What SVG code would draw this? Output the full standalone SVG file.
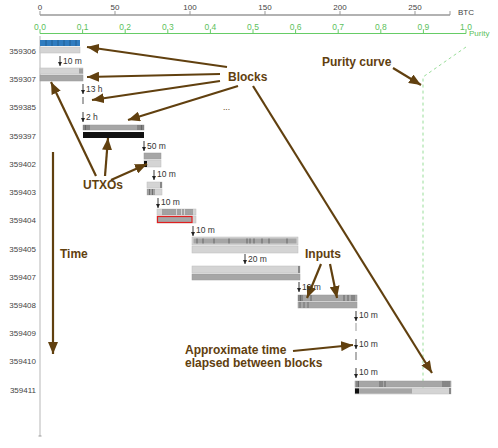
<svg xmlns="http://www.w3.org/2000/svg" width="498" height="448" viewBox="0 0 498 448">
<style>
.lbl{font-family:"Liberation Sans",Arial,sans-serif;font-size:8px;fill:#444}
.btc{font-family:"Liberation Sans",Arial,sans-serif;font-size:8px;fill:#444;text-anchor:middle}
.pur{font-family:"Liberation Sans",Arial,sans-serif;font-size:8.5px;fill:#5cbf5c;text-anchor:middle}
.row{font-family:"Liberation Sans",Arial,sans-serif;font-size:8px;fill:#444;text-anchor:end}
.dt{font-family:"Liberation Sans",Arial,sans-serif;font-size:8.5px;fill:#333}
.ann{font-family:"Liberation Sans",Arial,sans-serif;font-size:12px;font-weight:bold;fill:#61400f}
.brown{stroke:#61400f;stroke-width:2.2;fill:none;marker-end:url(#bh)}
.tarr{stroke:#222;stroke-width:0.9;fill:none;marker-end:url(#sh)}
.lg{fill:#d4d4d4;stroke:#bdbdbd;stroke-width:0.5}
.md{fill:#a6a6a6;stroke:#999;stroke-width:0.5}
</style>
<defs>
<marker id="bh" markerUnits="userSpaceOnUse" markerWidth="12" markerHeight="10" refX="12" refY="5" orient="auto"><path d="M0,0 L12,5 L0,10 z" fill="#61400f"/></marker>
<marker id="sh" markerUnits="userSpaceOnUse" markerWidth="5" markerHeight="5" refX="4" refY="2.5" orient="auto"><path d="M0,0.5 L4,2.5 L0,4.5 z" fill="#222"/></marker>
</defs>

<g id="axis-btc">
<line x1="40" y1="15" x2="450" y2="15" stroke="#999" stroke-width="1.5"/>
<path d="M40,15V11M115,15V11M190,15V11M265,15V11M340,15V11M415,15V11M450,15V11" stroke="#999" stroke-width="1"/>
<text class="btc" x="40" y="10">0</text>
<text class="btc" x="115" y="10">50</text>
<text class="btc" x="190" y="10">100</text>
<text class="btc" x="265" y="10">150</text>
<text class="btc" x="340" y="10">200</text>
<text class="btc" x="415" y="10">250</text>
<text class="lbl" x="458" y="15">BTC</text>
</g>

<g id="axis-purity">
<line x1="40" y1="33.5" x2="466" y2="33.5" stroke="#66cc66" stroke-width="1"/>
<path d="M40,33.5V30M82.6,33.5V30M125.2,33.5V30M167.8,33.5V30M210.4,33.5V30M253,33.5V30M295.6,33.5V30M338.2,33.5V30M380.8,33.5V30M423.4,33.5V30M466,33.5V30" stroke="#66cc66" stroke-width="1"/>
<text class="pur" x="40" y="30">0.0</text>
<text class="pur" x="82.6" y="30">0.1</text>
<text class="pur" x="125.2" y="30">0.2</text>
<text class="pur" x="167.8" y="30">0.3</text>
<text class="pur" x="210.4" y="30">0.4</text>
<text class="pur" x="253" y="30">0.5</text>
<text class="pur" x="295.6" y="30">0.6</text>
<text class="pur" x="338.2" y="30">0.7</text>
<text class="pur" x="380.8" y="30">0.8</text>
<text class="pur" x="423.4" y="30">0.9</text>
<text class="pur" x="466" y="30">1.0</text>
<text class="pur" x="469" y="36" style="text-anchor:start;font-size:8px">Purity</text>
</g>

<g id="axis-left">
<line x1="40" y1="36" x2="40" y2="436" stroke="#cfcfcf" stroke-width="1.5"/>
<line x1="38.5" y1="436" x2="41.5" y2="436" stroke="#999" stroke-width="1"/>
</g>

<g id="row-labels">
<text class="row" x="36" y="54">359306</text>
<text class="row" x="36" y="82">359307</text>
<text class="row" x="36" y="110">359385</text>
<text class="row" x="36" y="139">359397</text>
<text class="row" x="36" y="167">359402</text>
<text class="row" x="36" y="195">359403</text>
<text class="row" x="36" y="223">359404</text>
<text class="row" x="36" y="252">359405</text>
<text class="row" x="36" y="280">359407</text>
<text class="row" x="36" y="308">359408</text>
<text class="row" x="36" y="336">359409</text>
<text class="row" x="36" y="364">359410</text>
<text class="row" x="36" y="393">359411</text>
</g>

<g id="purity-curve">
<polyline points="466,47 423,77 423,395" fill="none" stroke="#99dd99" stroke-width="1" stroke-dasharray="3,3"/>
</g>

<g id="block-359306">
<rect x="40" y="40" width="40" height="6" fill="#2f7cc0"/>
<path d="M46,40v6M52,40v6M58,40v6M64,40v6M70,40v6M76,40v6" stroke="#1d5685" stroke-width="0.8"/>
<rect class="lg" x="40" y="47" width="40" height="6"/>
</g>
<g id="block-359307">
<rect class="lg" x="40" y="68" width="43" height="6"/>
<rect x="79" y="68.5" width="4" height="5" fill="#a0a0a0"/>
<rect class="md" x="40" y="75" width="43" height="6"/>
</g>
<g id="block-359385">
<line x1="83" y1="97" x2="83" y2="104" stroke="#555" stroke-width="1"/>
</g>
<g id="block-359397">
<rect class="md" x="83" y="125" width="61" height="5"/>
<path d="M84,125v5M85.5,125v5M87,125v5M89,125v5M138,125v5M140,125v5M141.5,125v5M143,125v5" stroke="#555" stroke-width="0.8"/>
<rect x="83" y="132" width="61" height="6" fill="#111"/>
</g>
<g id="block-359402">
<rect class="md" x="144" y="153" width="17" height="6" fill="#999"/>
<rect class="lg" x="144" y="160" width="17" height="7"/>
<rect x="144" y="161" width="3" height="6" fill="#111"/>
</g>
<g id="block-359403">
<rect class="lg" x="147" y="182" width="15" height="6"/>
<rect x="160" y="182" width="2" height="6" fill="#888"/>
<rect class="lg" x="147" y="189" width="15" height="6"/>
<path d="M148,189v6M149.5,189v6M151,189v6M152.5,189v6M154,189v6" stroke="#555" stroke-width="0.8"/>
</g>
<g id="block-359404">
<rect class="lg" x="157" y="209" width="39" height="6"/>
<path d="M163,209v6M165,209v6M167,209v6M169,209v6M171,209v6M173,209v6M175,209v6M178,209v6M180,209v6M183,209v6M186,209v6M188,209v6M190,209v6M192,209v6" stroke="#555" stroke-width="0.8"/>
<rect class="lg" x="157" y="216" width="39" height="7"/>
<rect x="157.5" y="216.5" width="34.5" height="6" fill="#a6a6a6" stroke="#e02020" stroke-width="1.2"/>
</g>
<g id="block-359405">
<rect class="lg" x="192" y="237" width="106" height="8"/>
<rect x="193.5" y="238.5" width="103" height="5" fill="#a6a6a6"/>
<path d="M197,238.5v5M203,238.5v5M214,238.5v5M229,238.5v5M247,238.5v5M250,238.5v5M254,238.5v5M262,238.5v5M269,238.5v5M287,238.5v5" stroke="#666" stroke-width="1"/>
<rect class="lg" x="192" y="246" width="106" height="7"/>
</g>
<g id="block-359407">
<rect class="lg" x="192" y="266" width="108" height="7"/>
<rect x="298" y="266" width="2" height="7" fill="#888"/>
<rect class="md" x="192" y="274" width="108" height="6"/>
</g>
<g id="block-359408">
<rect class="md" x="298" y="295" width="59" height="6"/>
<path d="M299,295v6M300.5,295v6M302,295v6M311,295v6M344,295v6M348,295v6M352,295v6M354,295v6" stroke="#555" stroke-width="0.8"/>
<rect class="md" x="298" y="302" width="59" height="6"/>
<path d="M300,302v6M304,302v6M308,302v6" stroke="#666" stroke-width="0.8"/>
</g>
<g id="block-359409">
<line x1="356" y1="323" x2="356" y2="331" stroke="#bbb" stroke-width="1.5"/>
</g>
<g id="block-359410">
<line x1="356" y1="352" x2="356" y2="360" stroke="#999" stroke-width="1.5"/>
</g>
<g id="block-359411">
<rect class="md" x="355" y="381" width="96" height="6"/>
<path d="M357,381v6M358.5,381v6M380,381v6M382,381v6M385,381v6M443,381v6M445,381v6M447,381v6M449,381v6" stroke="#555" stroke-width="0.8"/>
<rect class="lg" x="355" y="388" width="96" height="6"/>
<rect x="355" y="388.5" width="57" height="5" fill="#a6a6a6"/>
<rect x="355" y="388.5" width="4" height="5" fill="#111"/>
<rect x="449" y="388" width="2" height="6" fill="#888"/>
</g>

<g id="connectors">
<line class="tarr" x1="60" y1="56" x2="60" y2="66"/>
<line class="tarr" x1="83" y1="84" x2="83" y2="94"/>
<line class="tarr" x1="83" y1="112" x2="83" y2="122"/>
<line class="tarr" x1="144" y1="141" x2="144" y2="151"/>
<line class="tarr" x1="154" y1="170" x2="154" y2="180"/>
<line class="tarr" x1="158" y1="198" x2="158" y2="208"/>
<line class="tarr" x1="193" y1="226" x2="193" y2="236"/>
<line class="tarr" x1="245" y1="254" x2="245" y2="264"/>
<line class="tarr" x1="299" y1="282" x2="299" y2="292"/>
<line class="tarr" x1="356" y1="311" x2="356" y2="321"/>
<line class="tarr" x1="356" y1="339" x2="356" y2="349"/>
<line class="tarr" x1="356" y1="368" x2="356" y2="378"/>

<line class="brown" x1="227" y1="67" x2="87" y2="47"/>
<line class="brown" x1="220" y1="74" x2="87" y2="77"/>
<line class="brown" x1="220" y1="81" x2="92" y2="100"/>
<line class="brown" x1="238" y1="86" x2="128" y2="120"/>
<line class="brown" x1="253" y1="86" x2="432" y2="373"/>
<line class="brown" x1="393" y1="68" x2="421" y2="85"/>
<line class="brown" x1="96" y1="176" x2="51" y2="82"/>
<line class="brown" x1="105" y1="176" x2="108" y2="138"/>
<line class="brown" x1="111" y1="180" x2="147" y2="164"/>
<line class="brown" x1="321" y1="264" x2="307" y2="298"/>
<line class="brown" x1="330" y1="264" x2="337" y2="298"/>
<line class="brown" x1="293" y1="351" x2="353" y2="345"/>
<line class="brown" x1="53" y1="152" x2="53" y2="354"/>
</g>

<g id="time-labels">
<text class="dt" x="63" y="64">10 m</text>
<text class="dt" x="86" y="92">13 h</text>
<text class="dt" x="86" y="120">2 h</text>
<text class="dt" x="147" y="149">50 m</text>
<text class="dt" x="157" y="177">10 m</text>
<text class="dt" x="161" y="205">10 m</text>
<text class="dt" x="196" y="233">10 m</text>
<text class="dt" x="248" y="262">20 m</text>
<text class="dt" x="302" y="290">10 m</text>
<text class="dt" x="359" y="318">10 m</text>
<text class="dt" x="359" y="347">10 m</text>
<text class="dt" x="359" y="375">10 m</text>
</g>

<g id="annotations">
<text class="ann" x="228" y="81">Blocks</text>
<text class="ann" x="322" y="66">Purity curve</text>
<text class="ann" x="83" y="189">UTXOs</text>
<text class="ann" x="60" y="258">Time</text>
<text class="ann" x="305" y="258">Inputs</text>
<text class="ann" x="185" y="354">Approximate time</text>
<text class="ann" x="185" y="367">elapsed between blocks</text>
<text class="dt" x="223" y="110" style="fill:#61400f">...</text>
</g>
</svg>
